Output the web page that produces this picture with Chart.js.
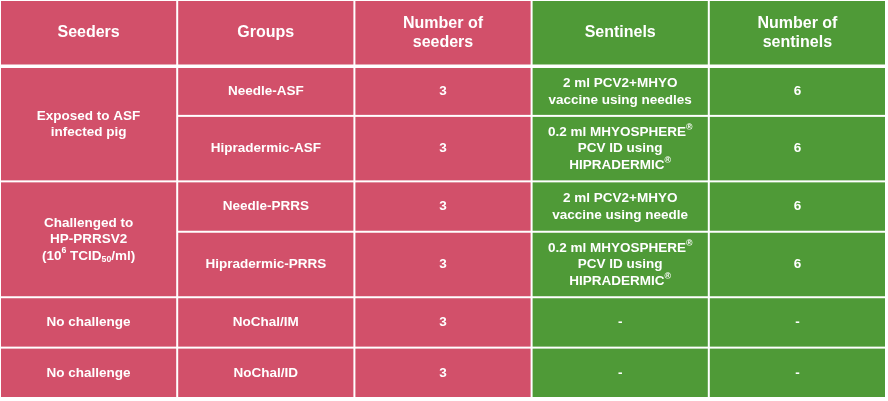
<!DOCTYPE html>
<html><head><meta charset="utf-8">
<script src="https://cdn.jsdelivr.net/npm/chart.js@4"></script>
<style>html,body{margin:0;padding:0;background:#fff}#w{width:888px;height:401px}</style>
</head><body><div id="w"><canvas id="c"></canvas></div>
<script>
// Table structure (data)
const headers = ["Seeders","Groups","Number of\nseeders","Sentinels","Number of\nsentinels"];
const seeders = [["Exposed to ASF\ninfected pig",2],["Challenged to\nHP-PRRSV2\n(10^{6} TCID_{50}/ml)",2],["No challenge",1],["No challenge",1]];
const groups = ["Needle-ASF","Hipradermic-ASF","Needle-PRRS","Hipradermic-PRRS","NoChal/IM","NoChal/ID"];
const numSeeders = ["3","3","3","3","3","3"];
const sentinels = ["2 ml PCV2+MHYO\nvaccine using needles","0.2 ml MHYOSPHERE^{®}\nPCV ID using\nHIPRADERMIC^{®}","2 ml PCV2+MHYO\nvaccine using needle","0.2 ml MHYOSPHERE^{®}\nPCV ID using\nHIPRADERMIC^{®}","-","-"];
const numSentinels = ["6","6","6","6","-","-"];
const rowWeights = [1.3,1,1.3,1,1.3,1,1];

const PINK="#D2506A", GREEN="#4F9A37";
const cum=[0]; rowWeights.forEach(w=>cum.push(cum[cum.length-1]+w));

function cells(){
  const out=[];
  headers.forEach((t,i)=>out.push({c:i,r:0,span:1,t,h:true}));
  let r=1; seeders.forEach(([t,s])=>{out.push({c:0,r,span:s,t});r+=s;});
  groups.forEach((t,i)=>out.push({c:1,r:i+1,span:1,t}));
  numSeeders.forEach((t,i)=>out.push({c:2,r:i+1,span:1,t}));
  sentinels.forEach((t,i)=>out.push({c:3,r:i+1,span:1,t}));
  numSentinels.forEach((t,i)=>out.push({c:4,r:i+1,span:1,t}));
  return out;
}
function parse(line){
  const segs=[];const re=/\^\{([^}]*)\}|_\{([^}]*)\}|([^\^_]+)/g;let m;
  while((m=re.exec(line))){ if(m[1]!==undefined)segs.push({t:m[1],k:'sup'});else if(m[2]!==undefined)segs.push({t:m[2],k:'sub'});else segs.push({t:m[3],k:'n'});}
  return segs;
}
const tablePlugin={id:'tbl',afterDatasetsDraw(ch){
  const ctx=ch.ctx,xs=ch.scales.x,ys=ch.scales.y;
  cells().forEach(cl=>{
    const x0=xs.getPixelForValue(cl.c),x1=xs.getPixelForValue(cl.c+1);
    const y0=ys.getPixelForValue(cum[cl.r]),y1=ys.getPixelForValue(cum[cl.r+cl.span]);
    const topGap = cl.r===1?2.5:1;
    ctx.fillStyle=cl.c>=3?GREEN:PINK;
    ctx.fillRect(x0+1,y0+topGap,x1-x0-2,y1-y0-topGap-1);
    const fs=cl.h?16:13.5, lh=cl.h?19:16.5;
    const lines=cl.t.split("\n");
    const cx=(x0+x1)/2, cy=(y0+y1)/2+(cl.r===1?1:0);
    ctx.fillStyle="#fff";ctx.textBaseline="middle";ctx.textAlign="left";
    lines.forEach((ln,i)=>{
      const y=cy+(i-(lines.length-1)/2)*lh;
      const segs=parse(ln);
      const fnt=k=>"bold "+(k==='n'?fs:fs*0.65)+"px 'Liberation Sans', Arial, sans-serif";
      let w=0;segs.forEach(s=>{ctx.font=fnt(s.k);w+=ctx.measureText(s.t).width;});
      let x=cx-w/2;
      segs.forEach(s=>{ctx.font=fnt(s.k);const dy=s.k==='sup'?-fs*0.35:s.k==='sub'?fs*0.3:0;ctx.fillText(s.t,x,y+dy);x+=ctx.measureText(s.t).width;});
    });
  });
}};
new Chart(document.getElementById('c'),{
  type:'scatter',
  data:{datasets:[{data:[]}]},
  options:{responsive:true,maintainAspectRatio:false,animation:false,
    layout:{padding:{left:0,right:2,top:0,bottom:3}},
    plugins:{legend:{display:false},tooltip:{enabled:false}},
    scales:{x:{type:'linear',min:0,max:headers.length,display:false},
            y:{type:'linear',min:0,max:cum[cum.length-1],reverse:true,display:false}}},
  plugins:[tablePlugin]
});
</script></body></html>
